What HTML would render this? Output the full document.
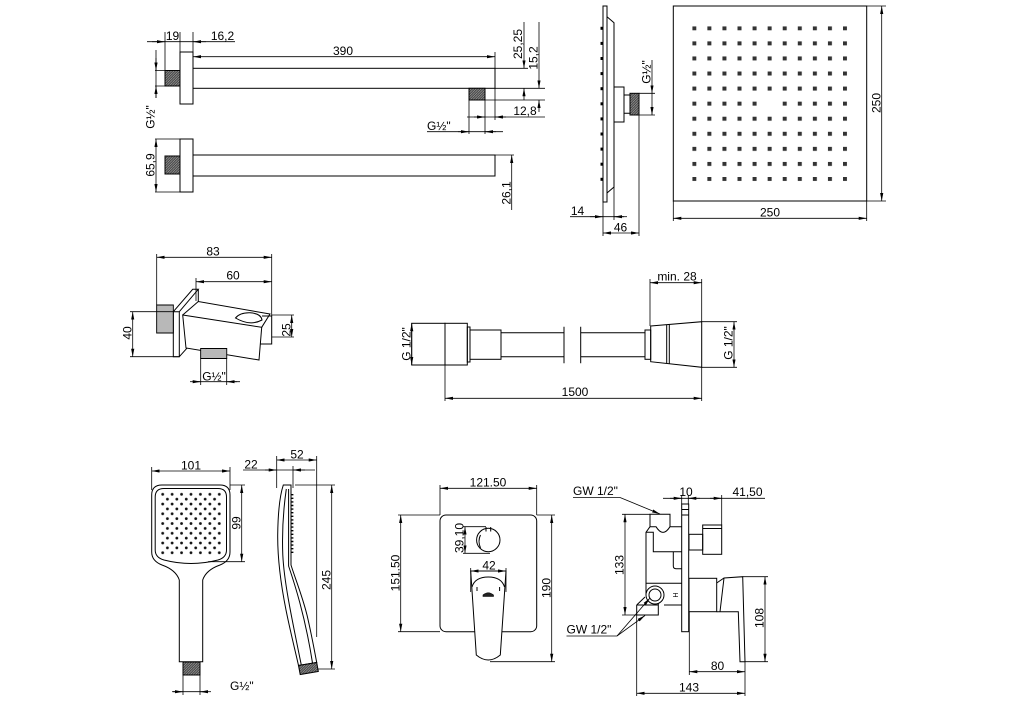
<!DOCTYPE html>
<html><head><meta charset="utf-8"><style>
html,body{margin:0;padding:0;background:#fff;}
svg{display:block;}
text{font-family:"Liberation Sans",Arial,sans-serif;font-size:12px;fill:#000;stroke:none;}
.m{text-anchor:middle;}
</style></head><body>
<svg width="1024" height="724" viewBox="0 0 1024 724" xmlns="http://www.w3.org/2000/svg">
<defs>
<marker id="a" viewBox="0 0 8 3.2" refX="8" refY="1.6" markerWidth="8" markerHeight="3.2" markerUnits="userSpaceOnUse" orient="auto-start-reverse"><path d="M0,0L8,1.6L0,3.2z" fill="#000"/></marker>
<pattern id="h" width="2.5" height="2.5" patternUnits="userSpaceOnUse"><rect width="2.5" height="2.5" fill="#4a4a4a"/><path d="M0,2.5L2.5,0" stroke="#aaa" stroke-width=".6"/></pattern>
<pattern id="v" width="2" height="4" patternUnits="userSpaceOnUse"><rect width="2" height="4" fill="#fff"/><path d="M1,0V4" stroke="#333" stroke-width=".7"/></pattern>
<pattern id="g" x="692.3" y="26.3" width="15.07" height="15.07" patternUnits="userSpaceOnUse"><rect width="4" height="4" fill="#333"/></pattern>
<pattern id="hd" x="160.7" y="492.3" width="9.43" height="9.74" patternUnits="userSpaceOnUse"><circle cx="2" cy="2" r="1.4" fill="#111"/><circle cx="6.715" cy="6.87" r="1.4" fill="#111"/></pattern>
</defs>

<!-- ================= SHAPES ================= -->
<g fill="none" stroke="#000" stroke-width="1">
<!-- top arm -->
<rect x="180" y="52" width="13" height="52"/>
<rect x="165" y="70.5" width="15" height="15.5" fill="url(#h)"/>
<rect x="193" y="68.3" width="302" height="20"/>
<rect x="469" y="88.3" width="16" height="11.7" fill="url(#h)"/>
<!-- bottom arm view -->
<rect x="180" y="139" width="13" height="53"/>
<rect x="165" y="156" width="15" height="18" fill="url(#h)"/>
<rect x="193" y="155" width="302" height="21"/>

<!-- shower side -->
<rect x="603" y="6" width="4" height="196"/>
<path d="M607,16.7L614,22.7V187L607,193"/>
<rect x="614" y="87" width="10" height="35"/>
<path d="M624,95H630V113.3H624"/>
<rect x="630" y="93.3" width="9" height="21.7" fill="url(#h)"/>
<!-- shower front -->
<rect x="673.3" y="6" width="193.4" height="195"/>

<!-- bracket -->
<rect x="156.7" y="305" width="16.6" height="28" fill="url(#v)"/>
<path d="M173.3,311.7V356.7H179.3V311.7Z M173.3,311.7L192.7,289.3H198.3L179.3,311.7 M198.3,289.3V302 M179.3,356.7L188.3,346.7"/>
<path d="M182.7,315L261.7,327.3L259,360L186,348Z" fill="#fff"/>
<path d="M182.7,315L198.3,301.5L270,314L261.7,327.3"/>
<path d="M262,316H271.7V344H260.5"/>
<path d="M235.5,318 Q240,312.5 250,312.8 Q261,313.5 262,320 Q250,326.5 235.5,318Z"/>
<rect x="200.7" y="348.5" width="26" height="10" fill="url(#v)"/>

<!-- hose -->
<rect x="411.7" y="323.3" width="33.3" height="41.7"/>
<rect x="445" y="323.3" width="22.3" height="41.7"/>
<rect x="467.3" y="327" width="2.7" height="35"/>
<rect x="470" y="330" width="31" height="29.3"/>
<path d="M501,332.7H564M501,356.7H564M580.7,332.7H645M580.7,356.7H645M564,326.7V363.3M580.7,326.7V363.3"/>
<rect x="645" y="330" width="5.7" height="29.3"/>
<path d="M650.7,326L701.7,321.7V367.3L650.7,361.7Z"/>
<path d="M666.7,324.7V363.4M669.3,324.5V363.7"/>

<!-- hand shower front -->
<path d="M162,485H220Q230,485 230,495V552Q230,561 220,565Q206,570 202.7,580V661.7H179.3V580Q176,570 162,565Q151.7,561 151.7,552V495Q151.7,485 162,485Z"/>
<path d="M164,488.5H218Q226.5,488.5 226.5,497V550Q226.5,557.5 218,560Q191,567 164,560Q155.2,557.5 155.2,550V497Q155.2,488.5 164,488.5Z"/>
<rect x="183" y="662" width="17" height="13" fill="url(#h)"/>
<!-- hand shower side -->
<path d="M283.3,485H291V565C295,578 302,595 307,615C311,632 314,648 316.7,662.5L298.5,665.5C295,650 290,630 286,610C281,585 277.5,560 277.7,535C278,510 280,495 283.3,485Z"/>
<path d="M286.3,489C284,505 281.8,530 282.8,555C284,580 290,610 301.3,665"/>
<path d="M288.6,489V566C294,582 305,615 312.5,663"/>
<path d="M292.4,494V553" stroke-width="2" stroke-dasharray="1.4 2.2"/>
<path d="M298.5,665.5L316.7,662.5L318.3,671.5L300.2,674.5Z" fill="url(#h)"/>

<!-- mixer front -->
<rect x="440" y="515" width="96.7" height="116.7" rx="6"/>
<circle cx="488.3" cy="540" r="11.7"/>
<path d="M486,527V531.5M490.7,527V531.5M480.5,535Q477.5,541 480.5,548"/>
<path d="M470.7,571H506L500.3,655Q488.3,665 476.3,655Z" fill="#fff"/>
<path d="M472,587Q475,577 488.3,577Q501.5,577 504.5,587"/>
<path d="M477,587V591M499.6,587V591"/>
<path d="M483,596.5H493.5V595Q488.3,590.5 483,595Z" fill="#222" stroke-width=".6"/>

<!-- mixer side -->
<rect x="681.7" y="504" width="7" height="127.7"/>
<path d="M681.7,509.5H688.7M681.7,515H688.7"/>
<rect x="689" y="534.3" width="13.7" height="15.7"/>
<rect x="702.7" y="525" width="19" height="29.3"/>
<path d="M702.7,528.5H721.7"/>
<rect x="689" y="578.3" width="27.7" height="33.4"/>
<path d="M716.7,583L724,578L742.7,576.7L745,661.7L740,661.7L738.3,611.7L716.7,611.7M724,578L720,611.7"/>
<path d="M650,526.7V514.3H670V526.7"/>
<path d="M650,526.7H656Q663,538 670,526.7H681.7"/>
<path d="M650,526.7L646,532.3V595"/>
<path d="M646,532.3H653.3V551.7H681.7"/>
<path d="M673.3,551.7V566Q673.3,568.7 676,568.7H681.7"/>
<path d="M646,583.3H681.7M664,605H681.7"/>
<circle cx="655" cy="595" r="9" fill="#fff"/>
<circle cx="655" cy="595" r="6"/>
<path d="M636.7,605L645,597M636.7,605V615H658.3V603M636.7,605H658.3"/>
</g>

<!-- dot grids -->
<rect x="692.3" y="26.3" width="154.8" height="154.8" fill="url(#g)"/>
<rect x="767" y="101" width="5.5" height="5.5" fill="#fff"/>
<rect x="160.7" y="492.3" width="60.6" height="62.7" fill="url(#hd)"/>
<g fill="#000">
<rect x="600.5" y="26.8" width="2.5" height="3"/><rect x="600.5" y="41.9" width="2.5" height="3"/><rect x="600.5" y="57" width="2.5" height="3"/><rect x="600.5" y="72.1" width="2.5" height="3"/><rect x="600.5" y="87.2" width="2.5" height="3"/><rect x="600.5" y="102.3" width="2.5" height="3"/><rect x="600.5" y="117.4" width="2.5" height="3"/><rect x="600.5" y="132.5" width="2.5" height="3"/><rect x="600.5" y="147.6" width="2.5" height="3"/><rect x="600.5" y="162.7" width="2.5" height="3"/><rect x="600.5" y="177.8" width="2.5" height="3"/>
</g>

<!-- ================= DIMENSIONS ================= -->
<g fill="none" stroke="#000" stroke-width=".8">
<!-- top arm -->
<path d="M165,32V70.5M180,32V52M193,32V52M147,41.7H235"/>
<line x1="152" y1="41.7" x2="165" y2="41.7" marker-end="url(#a)"/>
<line x1="206" y1="41.7" x2="193" y2="41.7" marker-end="url(#a)"/>
<line x1="193" y1="56.7" x2="495" y2="56.7" marker-start="url(#a)" marker-end="url(#a)"/>
<path d="M495,52V68.3M495,68.3H528M495,88.3H545M485,100H545"/>
<line x1="524" y1="22" x2="524" y2="68.3" marker-end="url(#a)"/>
<line x1="524" y1="100" x2="524" y2="88.3" marker-end="url(#a)"/>
<line x1="539" y1="22" x2="539" y2="88.3" marker-end="url(#a)"/>
<line x1="539" y1="112" x2="539" y2="100" marker-end="url(#a)"/>
<path d="M467,117H545M495,88.3V120M485,100V134M469,100V134M427,131.7H503"/>
<line x1="474" y1="117" x2="485" y2="117" marker-end="url(#a)"/>
<line x1="506" y1="117" x2="495" y2="117" marker-end="url(#a)"/>
<line x1="458" y1="131.7" x2="469" y2="131.7" marker-end="url(#a)"/>
<line x1="496" y1="131.7" x2="485" y2="131.7" marker-end="url(#a)"/>
<path d="M156,50V98M155,70.5H165M155,86H165"/>
<line x1="156" y1="58" x2="156" y2="70.5" marker-end="url(#a)"/>
<line x1="156" y1="98" x2="156" y2="86" marker-end="url(#a)"/>
<path d="M155,139H180M155,192H180"/>
<line x1="156" y1="139" x2="156" y2="192" marker-start="url(#a)" marker-end="url(#a)"/>
<path d="M495,155H514"/>
<line x1="511.7" y1="210" x2="511.7" y2="155" marker-end="url(#a)"/>

<!-- shower -->
<path d="M639,93.3H655M639,115H655M639,115V236"/>
<line x1="652" y1="60" x2="652" y2="93.3" marker-end="url(#a)"/>
<line x1="652" y1="93.3" x2="652" y2="115" marker-end="url(#a)"/>
<path d="M603,202V236M614,187V220M570,216.7H624"/>
<line x1="590" y1="216.7" x2="603" y2="216.7" marker-end="url(#a)"/>
<line x1="627" y1="216.7" x2="614" y2="216.7" marker-end="url(#a)"/>
<line x1="603" y1="233" x2="639" y2="233" marker-start="url(#a)" marker-end="url(#a)"/>
<path d="M866.7,6H886M866.7,201H886"/>
<line x1="881.7" y1="6" x2="881.7" y2="201" marker-start="url(#a)" marker-end="url(#a)"/>
<path d="M673.3,201V221M866.7,201V221"/>
<line x1="673.3" y1="218.3" x2="866.7" y2="218.3" marker-start="url(#a)" marker-end="url(#a)"/>

<!-- bracket -->
<path d="M156.7,254V305M271.7,254V316M196,278V301"/>
<line x1="156.7" y1="257.3" x2="271.7" y2="257.3" marker-start="url(#a)" marker-end="url(#a)"/>
<line x1="196" y1="281.7" x2="271.7" y2="281.7" marker-start="url(#a)" marker-end="url(#a)"/>
<path d="M130,311.7H173.3M130,356.7H179.3"/>
<line x1="132.7" y1="311.7" x2="132.7" y2="356.7" marker-start="url(#a)" marker-end="url(#a)"/>
<path d="M271.7,315H294M271.7,337H294"/>
<line x1="291.7" y1="315" x2="291.7" y2="337" marker-start="url(#a)" marker-end="url(#a)"/>
<path d="M200.7,358.5V385M226.7,358.5V385M193,381.7H240"/>
<line x1="190" y1="381.7" x2="200.7" y2="381.7" marker-end="url(#a)"/>
<line x1="237" y1="381.7" x2="226.7" y2="381.7" marker-end="url(#a)"/>

<!-- hose -->
<line x1="411.7" y1="323.3" x2="411.7" y2="365" marker-start="url(#a)" marker-end="url(#a)"/>
<path d="M701.7,321.7H737M701.7,367.3H737"/>
<line x1="734" y1="321.7" x2="734" y2="367.3" marker-start="url(#a)" marker-end="url(#a)"/>
<path d="M650,279V326M701.7,279V321.7"/>
<line x1="650" y1="282.7" x2="701.7" y2="282.7" marker-start="url(#a)" marker-end="url(#a)"/>
<path d="M445,365V401M701.7,367.3V401"/>
<line x1="445" y1="398.3" x2="701.7" y2="398.3" marker-start="url(#a)" marker-end="url(#a)"/>

<!-- hand shower -->
<path d="M151.7,467V490M230,467V490"/>
<line x1="151.7" y1="471" x2="230" y2="471" marker-start="url(#a)" marker-end="url(#a)"/>
<path d="M230,485H245M208,561.7H245"/>
<line x1="241.7" y1="485" x2="241.7" y2="561.7" marker-start="url(#a)" marker-end="url(#a)"/>
<path d="M183,675V695M200,675V695M173,691.7H207"/>
<line x1="172" y1="691.7" x2="183" y2="691.7" marker-end="url(#a)"/>
<line x1="211" y1="691.7" x2="200" y2="691.7" marker-end="url(#a)"/>
<path d="M276.7,456V488M293,466V488M316.7,456V637M243,470H315"/>
<line x1="276.7" y1="460" x2="316.7" y2="460" marker-start="url(#a)" marker-end="url(#a)"/>
<line x1="265" y1="470" x2="276.7" y2="470" marker-end="url(#a)"/>
<line x1="305" y1="470" x2="293" y2="470" marker-end="url(#a)"/>
<path d="M295,485H335M318,669H335"/>
<line x1="331.7" y1="485" x2="331.7" y2="669" marker-start="url(#a)" marker-end="url(#a)"/>

<!-- mixer front -->
<path d="M440,485V515M536.7,485V515"/>
<line x1="440" y1="488.3" x2="536.7" y2="488.3" marker-start="url(#a)" marker-end="url(#a)"/>
<path d="M398,515H440M398,631.7H440M536.7,515H555M490,661.7H555"/>
<line x1="400.7" y1="515" x2="400.7" y2="631.7" marker-start="url(#a)" marker-end="url(#a)"/>
<line x1="551.7" y1="515" x2="551.7" y2="661.7" marker-start="url(#a)" marker-end="url(#a)"/>
<path d="M463,526.7H486M463,553.3H490"/>
<line x1="465" y1="526.7" x2="465" y2="553.3" marker-start="url(#a)" marker-end="url(#a)"/>
<path d="M470.7,568V592M506,568V592"/>
<line x1="470.7" y1="571" x2="506" y2="571" marker-start="url(#a)" marker-end="url(#a)"/>

<!-- mixer side -->
<path d="M681.7,495V504M688.3,495V504M721.7,495V525M663,498.3H765"/>
<line x1="670" y1="498.3" x2="681.7" y2="498.3" marker-end="url(#a)"/>
<line x1="700" y1="498.3" x2="688.3" y2="498.3" marker-end="url(#a)"/>
<line x1="710" y1="498.3" x2="721.7" y2="498.3" marker-end="url(#a)"/>
<path d="M573,497.5H620"/>
<line x1="620" y1="497.5" x2="660" y2="514" marker-end="url(#a)"/>
<path d="M566.5,636H617"/>
<line x1="617" y1="636" x2="650" y2="598" marker-end="url(#a)"/>
<line x1="617" y1="636" x2="645" y2="615.5" marker-end="url(#a)"/>
<path d="M622,514.3H650M622,615H636.7"/>
<line x1="625" y1="514.3" x2="625" y2="615" marker-start="url(#a)" marker-end="url(#a)"/>
<path d="M742.7,576.7H768M745,661.7H768"/>
<line x1="765" y1="576.7" x2="765" y2="661.7" marker-start="url(#a)" marker-end="url(#a)"/>
<path d="M689.3,611.7V675M745,661.7V696M636.7,615V696"/>
<line x1="689.3" y1="671.7" x2="745" y2="671.7" marker-start="url(#a)" marker-end="url(#a)"/>
<line x1="636.7" y1="693.3" x2="745" y2="693.3" marker-start="url(#a)" marker-end="url(#a)"/>
</g>

<!-- ================= TEXT ================= -->
<g>
<text class="m" x="172.5" y="40">19</text>
<text class="m" x="222.5" y="40">16,2</text>
<text class="m" x="343" y="55">390</text>
<text class="m" x="525" y="115">12,8</text>
<text x="427" y="130">G½"</text>
<text class="m" x="577.5" y="215">14</text>
<text class="m" x="620.5" y="231.5">46</text>
<text class="m" x="770" y="216.5">250</text>
<text class="m" x="213" y="255.5">83</text>
<text class="m" x="233" y="279.5">60</text>
<text class="m" x="214" y="380.5">G½"</text>
<text class="m" x="677" y="280.5">min. 28</text>
<text class="m" x="575" y="396">1500</text>
<text class="m" x="191" y="469.5">101</text>
<text class="m" x="251" y="468.5">22</text>
<text class="m" x="297" y="458.5">52</text>
<text x="230" y="690">G½"</text>
<text class="m" x="488" y="486.5">121.50</text>
<text class="m" x="489" y="569.5">42</text>
<text x="573" y="495">GW 1/2"</text>
<text class="m" x="686" y="496">10</text>
<text class="m" x="747.5" y="496">41,50</text>
<text x="566.5" y="633.5">GW 1/2"</text>
<text class="m" x="717.5" y="670">80</text>
<text class="m" x="689" y="691.5">143</text>

<text class="m" transform="translate(154.5,117) rotate(-90)">G½"</text>
<text class="m" transform="translate(154.5,165) rotate(-90)">65,9</text>
<text class="m" transform="translate(522,44) rotate(-90)">25,25</text>
<text class="m" transform="translate(537.5,58) rotate(-90)">15,2</text>
<text class="m" transform="translate(510.5,193) rotate(-90)">26,1</text>
<text class="m" transform="translate(650.5,72) rotate(-90)">G½"</text>
<text class="m" transform="translate(880.5,103) rotate(-90)">250</text>
<text class="m" transform="translate(131.5,333) rotate(-90)">40</text>
<text class="m" transform="translate(290.5,330) rotate(-90)">25</text>
<text class="m" transform="translate(410.5,344) rotate(-90)">G 1/2"</text>
<text class="m" transform="translate(732.5,343) rotate(-90)">G 1/2"</text>
<text class="m" transform="translate(240.5,523) rotate(-90)">99</text>
<text class="m" transform="translate(330.5,580) rotate(-90)">245</text>
<text class="m" transform="translate(463.5,538) rotate(-90)">39,10</text>
<text class="m" transform="translate(399.5,573) rotate(-90)">151.50</text>
<text class="m" transform="translate(550.5,588) rotate(-90)">190</text>
<text class="m" transform="translate(623.5,565) rotate(-90)">133</text>
<text class="m" transform="translate(763.5,618) rotate(-90)">108</text>
<text class="m" transform="translate(673,595) rotate(90)" style="font-size:7px">H</text>
</g>
</svg>
</body></html>
